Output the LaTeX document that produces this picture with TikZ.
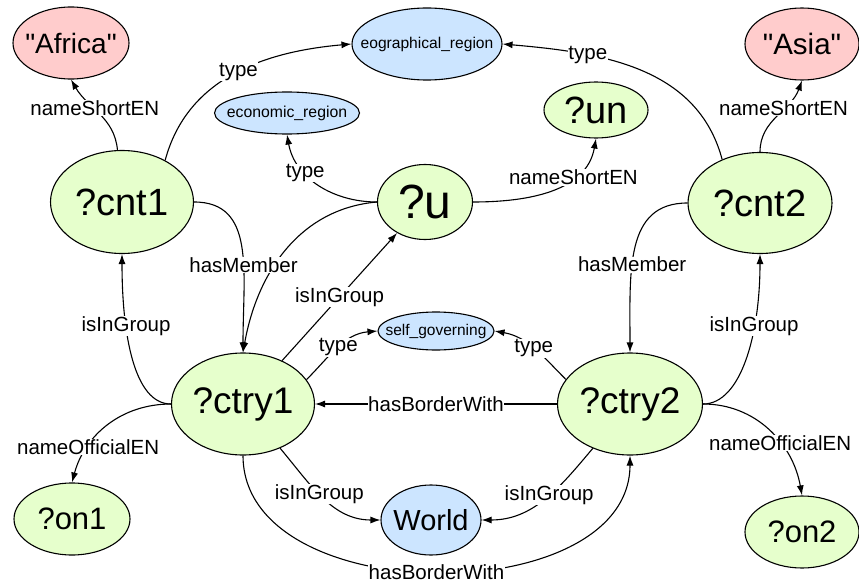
\documentclass[tikz,border=0pt]{standalone}
\usepackage{fontspec}
\setmainfont{Liberation Sans}[Ligatures=TeXOff]
\usetikzlibrary{shapes.geometric,arrows.meta}
\definecolor{varfill}{RGB}{230,255,204}
\definecolor{clsfill}{RGB}{204,229,255}
\definecolor{litfill}{RGB}{255,204,204}
\newcommand{\nodetext}[1]{\makebox[0pt]{#1}}

\begin{document}
\begin{tikzpicture}[x=1pt,y=1pt,
    gnode/.style={ellipse,draw,line width=1.1pt,inner sep=0pt},
    var/.style={gnode,fill=varfill},
    cls/.style={gnode,fill=clsfill},
    lit/.style={gnode,fill=litfill},
    fs/.style={font=\fontsize{#1}{#1}\selectfont},
    edge/.style={line width=1.1pt,-{Latex[length=10pt,width=7pt]}},
    lbl/.style={fill=white,inner sep=0.5pt,fs=20.5}]
            \useasboundingbox (0,0) rectangle (859,-583);

            \node[lit,minimum width=116pt,minimum height=72pt,fs=28] (africa) at (71,-43){\nodetext{"Africa"}};
            \node[cls,minimum width=150pt,minimum height=72pt,fs=15.6] (geo) at (427,-44){\nodetext{eographical\_region}};
            \node[lit,minimum width=114pt,minimum height=72pt,fs=29.5] (asia) at (802,-44){\nodetext{"Asia"}};
            \node[cls,minimum width=145pt,minimum height=42pt,fs=15.8] (econ) at (287,-113){\nodetext{economic\_region}};
            \node[var,minimum width=104pt,minimum height=56pt,fs=38] (un) at (596,-110){\nodetext{?un}};
            \node[var,minimum width=143pt,minimum height=103pt,fs=38] (cnt1) at (122,-202){\nodetext{?cnt1}};
            \node[var,minimum width=95pt,minimum height=75pt,fs=48] (u) at (425,-202){\nodetext{?u}};
            \node[var,minimum width=144pt,minimum height=101pt,fs=38] (cnt2) at (760,-203){\nodetext{?cnt2}};
            \node[cls,minimum width=116pt,minimum height=38pt,fs=15.5] (selfgov) at (436,-331){\nodetext{self\_governing}};
            \node[var,minimum width=143pt,minimum height=102pt,fs=37] (ctry1) at (243,-404){\nodetext{?ctry1}};
            \node[var,minimum width=145pt,minimum height=102pt,fs=37] (ctry2) at (630,-404){\nodetext{?ctry2}};
            \node[var,minimum width=116pt,minimum height=72pt,fs=31] (on1) at (72,-519){\nodetext{?on1}};
            \node[cls,minimum width=100pt,minimum height=70pt,fs=29] (world) at (431,-520){\nodetext{World}};
            \node[var,minimum width=114pt,minimum height=72pt,fs=31] (on2) at (802,-532){\nodetext{?on2}};

            \draw[edge] (cnt1) to[out=95,in=-60] node[lbl,pos=0.58]{nameShortEN} (africa.south);
            \draw[edge] (cnt1.44) to[out=75,in=185] node[lbl,pos=0.52]{type} (geo.west);
            \draw[edge] (cnt2.131) to[out=105,in=-5] node[lbl,pos=0.7]{type} (geo.east);
            \draw[edge] (cnt2.north) to[out=90,in=-110] node[lbl,pos=0.62]{nameShortEN} (asia.south);
            \draw[edge] (u.west) to[out=180,in=-80] node[lbl,pos=0.65]{type} (econ.south);
            \draw[edge] (u.east) to[out=0,in=-100] node[lbl,pos=0.68]{nameShortEN} (un.south);
            \draw[edge] (u.west) to[out=185,in=80] (ctry1.north);
            \draw[edge] (cnt1.east) to[out=0,in=90,in looseness=1.3] node[lbl,pos=0.6]{hasMember} (ctry1.north);
            \draw[edge] (ctry1) -- node[lbl]{isInGroup} (u);
            \draw[edge] (ctry1.west) to[out=180,in=-90,out looseness=0.6,in looseness=1.3] node[lbl,pos=0.68]{isInGroup} (cnt1.south);
            \draw[edge] (ctry1.21) to[out=45,in=185] node[lbl]{type} (selfgov.west);
            \draw[edge] (ctry2.159) to[out=135,in=-10] node[lbl]{type} (selfgov.east);
            \draw[edge] (ctry2) -- node[lbl]{hasBorderWith} (ctry1);
            \draw[edge] (ctry1.west) to[out=180,in=75] node[lbl,pos=0.72]{nameOfficialEN} (on1.north);
            \draw[edge] (ctry2.east) to[out=0,in=100] node[lbl,pos=0.62]{nameOfficialEN} (on2.north);
            \draw[edge] (ctry2.east) to[out=0,in=-90,out looseness=0.6,in looseness=1.3] node[lbl,pos=0.68]{isInGroup} (cnt2.south);
            \draw[edge] (cnt2.west) to[out=180,in=90,in looseness=1.3] node[lbl,pos=0.6]{hasMember} (ctry2.north);
            \draw[edge] (ctry1.-50) to[out=-50,in=180] node[lbl,pos=0.45]{isInGroup} (world.west);
            \draw[edge] (ctry2.-130) to[out=-130,in=0] node[lbl,pos=0.45]{isInGroup} (world.east);
            \draw[edge] (ctry1.south) to[out=-90,in=-90,looseness=1.03] node[lbl]{hasBorderWith} (ctry2.south);
        \end{tikzpicture}
\end{document}
